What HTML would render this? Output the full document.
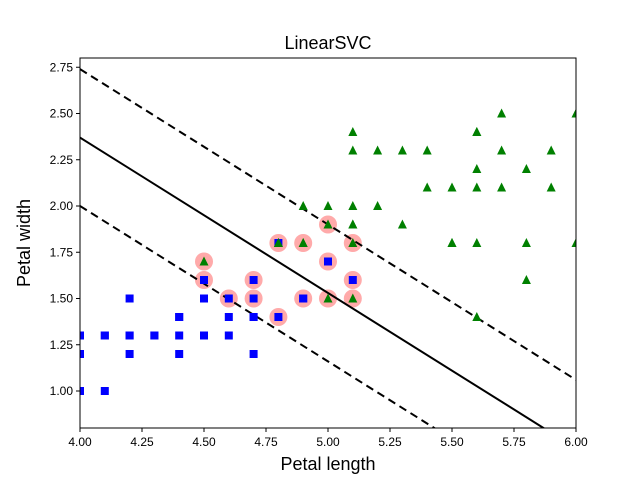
<!DOCTYPE html>
<html><head><meta charset="utf-8"><style>
html,body{margin:0;padding:0;background:#fff;width:640px;height:480px;overflow:hidden;}
#wrap{position:relative;width:640px;height:480px;overflow:hidden;}
svg{position:absolute;left:0;top:0;display:block;font-family:"Liberation Sans","DejaVu Sans",sans-serif;overflow:hidden;}
</style></head><body>
<div id="wrap">
<svg id="chart" width="640" height="480" viewBox="0 0 640 480"></svg>
</div>
<script>
const xTicks=[4.00,4.25,4.50,4.75,5.00,5.25,5.50,5.75,6.00];
const yTicks=[1.00,1.25,1.50,1.75,2.00,2.25,2.50,2.75];
const versiX=[4.7,4.5,4.9,4.0,4.6,4.5,4.7,3.3,4.6,3.9,3.5,4.2,4.0,4.7,3.6,4.4,4.5,4.1,4.5,3.9,4.8,4.0,4.9,4.7,4.3,4.4,4.8,5.0,4.5,3.5,3.8,3.7,3.9,5.1,4.5,4.5,4.7,4.4,4.1,4.0,4.4,4.6,4.0,3.3,4.2,4.2,4.2,4.3,3.0,4.1];
const versiY=[1.4,1.5,1.5,1.3,1.5,1.3,1.6,1.0,1.3,1.4,1.0,1.5,1.0,1.4,1.3,1.4,1.5,1.0,1.5,1.1,1.8,1.3,1.5,1.2,1.3,1.4,1.4,1.7,1.5,1.0,1.1,1.0,1.2,1.6,1.5,1.6,1.5,1.3,1.3,1.3,1.2,1.4,1.2,1.0,1.3,1.2,1.3,1.3,1.1,1.3];
const virgX=[6.0,5.1,5.9,5.6,5.8,6.6,4.5,6.3,5.8,6.1,5.1,5.3,5.5,5.0,5.1,5.3,5.5,6.7,6.9,5.0,5.7,4.9,6.7,4.9,5.7,6.0,4.8,4.9,5.6,5.8,6.1,6.4,5.6,5.1,5.6,6.1,5.6,5.5,4.8,5.4,5.6,5.1,5.1,5.9,5.7,5.2,5.0,5.2,5.4,5.1];
const virgY=[2.5,1.9,2.1,1.8,2.2,2.1,1.7,1.8,1.8,2.5,2.0,1.9,2.1,2.0,2.4,2.3,1.8,2.2,2.3,1.5,2.3,2.0,2.0,1.8,2.1,1.8,1.8,1.8,2.1,1.6,1.9,2.0,2.2,1.5,1.4,2.3,2.4,1.8,1.8,2.1,2.4,2.3,1.9,2.3,2.5,2.3,1.9,2.0,2.3,1.8];
const svX=[4.5,4.5,4.6,4.7,4.7,4.8,4.8,4.9,4.9,5.0,5.0,5.0,5.1,5.1,5.1];
const svY=[1.7,1.6,1.5,1.6,1.5,1.4,1.8,1.8,1.5,1.9,1.7,1.5,1.8,1.6,1.5];
const boundary={slope:-0.84,intercept4:2.37,margin:0.37};
const L=80,R=576,T=58,B=428,x0=4,x1=6,y0=0.8,y1=2.8;
const sx=v=>L+(v-x0)/(x1-x0)*(R-L);
const sy=v=>B-(v-y0)/(y1-y0)*(B-T);
const ns="http://www.w3.org/2000/svg";
const svg=document.getElementById('chart');
function mk(tag,attrs,parent){const e=document.createElementNS(ns,tag);for(const k in attrs)e.setAttribute(k,attrs[k]);(parent||svg).appendChild(e);return e;}
const defs=mk('defs',{});const cp=mk('clipPath',{id:'clip'},defs);mk('rect',{x:L,y:T,width:R-L,height:B-T},cp);
const g=mk('g',{'clip-path':'url(#clip)'});


svX.forEach((x,i)=>{const c=mk('circle',{cx:sx(x),cy:sy(svY[i]),r:9,fill:'#FFAAAA'},g);

});
[[0,'none','decision-boundary'],[boundary.margin,'8,5','margin-upper'],[-boundary.margin,'8,5','margin-lower']].forEach(([off,d,n])=>{
const ya=boundary.intercept4+off,yb=ya+boundary.slope*(x1-x0);
const l=mk('line',{x1:sx(x0),y1:sy(ya),x2:sx(x1),y2:sy(yb),stroke:'#000','stroke-width':2,'stroke-dasharray':d},g);

});
versiX.forEach((x,i)=>{const r=mk('rect',{x:sx(x)-4,y:sy(versiY[i])-4,width:8,height:8,fill:'#0000ff'},g);

});
virgX.forEach((x,i)=>{const cx=sx(x),cy=sy(virgY[i]);
const p=mk('polygon',{points:`${cx},${cy-5} ${cx+4.5},${cy+4} ${cx-4.5},${cy+4}`,fill:'#008000'},g);

});
const fr=mk('rect',{x:L,y:T,width:R-L,height:B-T,fill:'none',stroke:'#000','stroke-width':1});


xTicks.forEach(v=>{mk('line',{x1:sx(v),y1:B,x2:sx(v),y2:B+4,stroke:'#000'});
const t=mk('text',{x:sx(v),y:B+18,'text-anchor':'middle','font-size':12});t.textContent=v.toFixed(2);

});
yTicks.forEach(v=>{mk('line',{x1:L-4,y1:sy(v),x2:L,y2:sy(v),stroke:'#000'});
const t=mk('text',{x:L-7,y:sy(v)+4,'text-anchor':'end','font-size':12});t.textContent=v.toFixed(2);

});
const ti=mk('text',{x:(L+R)/2,y:49,'text-anchor':'middle','font-size':18});ti.textContent='LinearSVC';


const xl=mk('text',{x:(L+R)/2,y:470,'text-anchor':'middle','font-size':18});xl.textContent='Petal length';


const yl=mk('text',{x:30,y:(T+B)/2,'text-anchor':'middle','font-size':18,transform:`rotate(-90 30 ${(T+B)/2})`});yl.textContent='Petal width';


</script>
</body></html>
